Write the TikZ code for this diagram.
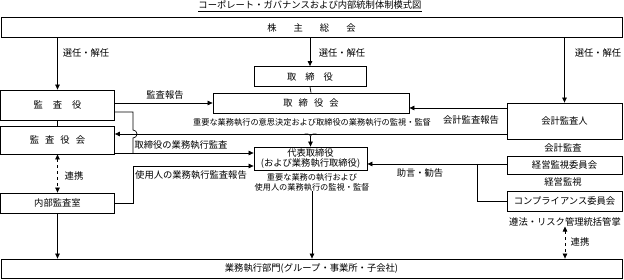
\documentclass[tikz,border=0pt]{standalone}
\usepackage{fontspec}
\setmainfont{Noto Sans CJK JP}
\usepackage{tikz}
\usetikzlibrary{arrows.meta,positioning,calc}
\newcommand{\fsmain}{\fontsize{9.3pt}{11pt}\selectfont}
\newcommand{\fsnote}{\fontsize{8.2pt}{9.4pt}\selectfont}

\begin{document}
\begin{tikzpicture}[
  x=1pt,y=-1pt,
  box/.style={draw,line width=0.8pt,inner sep=0pt,font=\fsmain,align=center},
  lbl/.style={inner sep=0pt,font=\fsmain},
  sml/.style={inner sep=0pt,font=\fsnote,align=center},
  arr/.style={line width=0.7pt,-{Triangle[length=5pt,width=4.5pt]}},
  wire/.style={line width=0.7pt},
  link/.style={line width=0.7pt,dashed,{Triangle[length=5pt,width=4.5pt]}-{Triangle[length=5pt,width=4.5pt]}},
]
\useasboundingbox (0,0) rectangle (624,280);
% title
\node[lbl] (title) at (310,6) {\underline{コーポレート・ガバナンスおよび内部統制体制模式図}};
% shareholders --- top band
\node[box,minimum width=621,minimum height=20] (gms) at (311.5,27.5)
  {株\hspace{17pt}主\hspace{17pt}総\hspace{17pt}会};
% left column
\node[box,minimum width=114,minimum height=30] (kansa) at (57.5,105) {監\hspace{10pt}査\hspace{10pt}役};
\node[box,minimum width=114,minimum height=28] (kansakai) at (57.5,140) {監\hspace{6pt}査\hspace{6pt}役\hspace{6pt}会};
\node[box,minimum width=114,minimum height=20] (naibu) at (57.5,203) {内部監査室};
% centre column
\node[box,minimum width=112,minimum height=20] (tori) at (310,76.5) {取\hspace{9pt}締\hspace{9pt}役};
\node[box,minimum width=196,minimum height=20] (torikai) at (311,103) {取\hspace{6pt}締\hspace{6pt}役\hspace{6pt}会};
\node[sml] (torinote) at (312,122) {重要な業務執行の意思決定および取締役の業務執行の監視・監督};
\node[box,minimum width=113,minimum height=23] (daihyo) at (310.5,158.5)
  {代表取締役\\[-1pt](および業務執行取締役)};
\node[sml] (daihyonote) at (312,182.5) {重要な業務の執行および\\使用人の業務執行の監視・監督};
% right column
\node[box,minimum width=115,minimum height=36] (kaikei) at (564.5,121) {会計監査人};
\node[sml,font=\fsmain] (kaikeinote) at (563,148) {会計監査};
\node[box,minimum width=115,minimum height=18] (keiei) at (564.5,165) {経営監視委員会};
\node[sml,font=\fsmain] (keieinote) at (563,182) {経営監視};
\node[box,minimum width=115,minimum height=20] (comp) at (564.5,201) {コンプライアンス委員会};
\node[sml,font=\fsmain] (compnote) at (565,222) {遵法・リスク管理統括管掌};
% business units --- bottom band
\node[box,minimum width=621,minimum height=19] (gyomu) at (311.5,268.5)
  {業務執行部門(グループ・事業所・子会社)};

% appointment from shareholders
\draw[arr] (gms.south -| kansa.north) -- (kansa.north);
\draw[arr] (gms.south -| tori.north) -- (tori.north);
\draw[arr] (gms.south -| kaikei.north) -- (kaikei.north);
\node[lbl] (sen1) at (86,53) {選任・解任};
\node[lbl] (sen2) at (342,53) {選任・解任};
\node[lbl] (sen3) at (598,53) {選任・解任};
\draw[wire] (tori.south) -- (torikai.north);
\draw[wire] (kansa.south) -- (kansakai.north);

% audit reports
\draw[arr] (kansa.east |- torikai.west) -- (torikai.west);
\node[lbl] (kansarep) at (165,95) {監査報告};
\coordinate (k1) at ([yshift=-5pt]torikai.east);
\draw[arr] (k1 -| kaikei.west) -- (k1);
\node[lbl] (kaikeirep) at (471,120) {会計監査報告};

% accounting audit line with branch to representative director
\coordinate (k2) at ([yshift=-13pt]kaikei.west);
\draw[arr] (k2) -- (k2 -| kansakai.east);
\coordinate (m0) at (k2 -| daihyo.north);
\coordinate (ml) at ([xshift=-6pt]m0);
\coordinate (mr) at ([xshift=6pt]m0);
\coordinate (mj) at ([yshift=-6pt]m0);
\draw[wire] (ml) .. controls (m0) .. (mj);
\draw[wire] (mr) .. controls (m0) .. (mj);
\draw[arr] (mj) -- (daihyo.north);

% audit of directors (line hops over the accounting audit line)
\coordinate (h0) at ([yshift=-7pt]kansa.east);
\coordinate (k5) at ([yshift=5.5pt]daihyo.west);
\draw[wire] (h0) -- ++(18,0) -- (133,130) arc (90:-90:4pt) -- (133,153);
\draw[arr] (k5 -| kansakai.east) -- (k5);
\node[lbl] (torikansa) at (181,145.5) {取締役の業務執行監査};
\coordinate (k6) at ([yshift=-7.5pt]daihyo.west);
\draw[arr] (naibu.east) -- ++(18,0) |- (k6);
\node[lbl] (shiyorep) at (191,175) {使用人の業務執行監査報告};

% advice from committees
\coordinate (k3) at ([yshift=-5.5pt]daihyo.east);
\draw[arr] (k3 -| keiei.west) -- (k3);
\coordinate (k4) at ([xshift=-29pt]comp.west);
\draw[wire] (k4 |- k3) -- (k4) -- (comp.west);
\node[lbl] (jogen) at (420,173) {助言・勧告};

% to business units
\draw[arr] (daihyonote.south) -- (daihyonote.south |- gyomu.north);
\draw[arr] (naibu.south) -- (naibu.south |- gyomu.north);
\draw[link] (kansakai.south) -- (naibu.north);
\node[lbl] (renkei1) at (74,176) {連携};
\draw[link] (compnote.south) -- (compnote.south |- gyomu.north);
\node[lbl] (renkei2) at (580,242) {連携};
\end{tikzpicture}
\end{document}
